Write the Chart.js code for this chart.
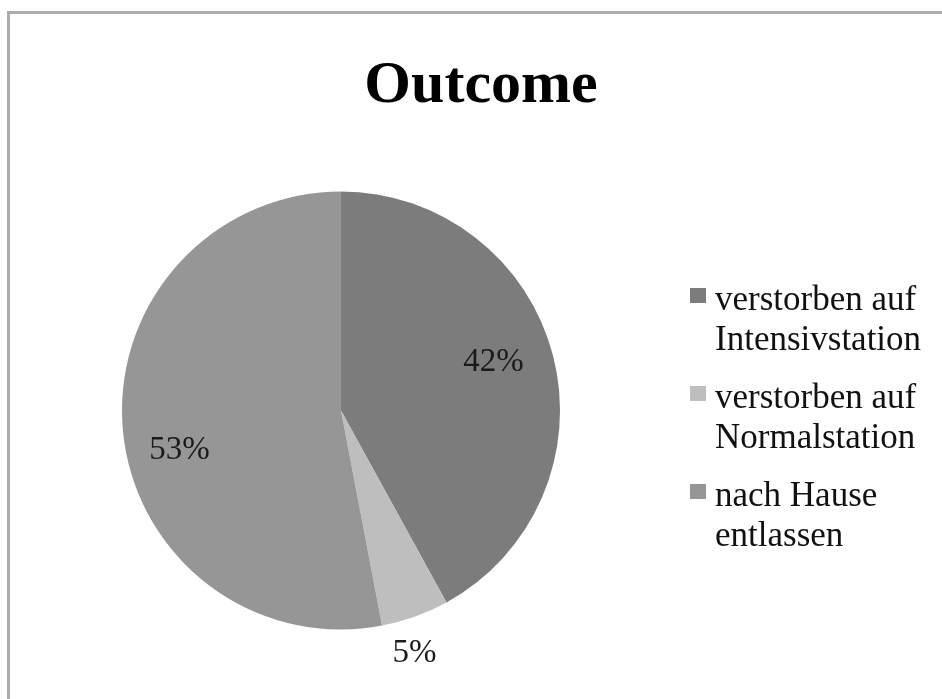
<!DOCTYPE html>
<html>
<head>
<meta charset="utf-8">
<script src="https://cdn.jsdelivr.net/npm/chart.js@4/dist/chart.umd.min.js"></script>
<style>
  html, body { margin: 0; padding: 0; background: #ffffff; }
  #wrap { position: relative; width: 942px; height: 699px; }
</style>
</head>
<body>
<div id="wrap"><canvas id="chart"></canvas></div>
<script>
// Outcome categories (multi-line legend text) and their shares in percent
const categories = [
  ['verstorben auf', 'Intensivstation'],
  ['verstorben auf', 'Normalstation'],
  ['nach Hause', 'entlassen']
];
const shares = [42, 5, 53];
const chartTitle = 'Outcome';

const sliceColors = ['#7c7c7c', '#bebebe', '#969696'];
const serif = '"Liberation Serif", "Times New Roman", serif';

// Grey frame along the top and left edge of the chart box
const framePlugin = {
  id: 'frame',
  beforeDraw(chart) {
    const ctx = chart.ctx;
    ctx.save();
    ctx.fillStyle = '#ffffff';
    ctx.fillRect(0, 0, chart.width, chart.height);
    ctx.strokeStyle = '#acacac';
    ctx.lineWidth = 3;
    ctx.beginPath();
    ctx.moveTo(8.5, chart.height + 5);
    ctx.lineTo(8.5, 12.5);
    ctx.lineTo(chart.width + 5, 12.5);
    ctx.stroke();
    ctx.restore();
  }
};

// Title centred over the chart
const titlePlugin = {
  id: 'bigTitle',
  afterDraw(chart) {
    const ctx = chart.ctx;
    ctx.save();
    ctx.font = 'bold 60px ' + serif;
    ctx.fillStyle = '#000000';
    ctx.textAlign = 'center';
    ctx.textBaseline = 'alphabetic';
    ctx.fillText(chartTitle, 481, 102);
    ctx.restore();
  }
};

// Percentage labels placed from each arc's geometry
const percentPlugin = {
  id: 'percentLabels',
  afterDatasetsDraw(chart, args, opts) {
    const ctx = chart.ctx;
    const meta = chart.getDatasetMeta(0);
    const data = chart.data.datasets[0].data;
    const total = data.reduce((a, b) => a + b, 0);
    ctx.save();
    ctx.font = '33px ' + serif;
    ctx.fillStyle = '#1a1a1a';
    ctx.textAlign = 'center';
    ctx.textBaseline = 'middle';
    meta.data.forEach((arc, i) => {
      const p = opts.placement[i];
      const mid = (arc.startAngle + arc.endAngle) / 2 + p.shift * Math.PI / 180;
      const dist = arc.outerRadius * p.frac;
      const x = arc.x + Math.cos(mid) * dist;
      const y = arc.y + Math.sin(mid) * dist;
      ctx.fillText(Math.round(data[i] / total * 100) + '%', x, y);
    });
    ctx.restore();
  }
};

// Legend on the right with square swatches and wrapped labels
const sideLegendPlugin = {
  id: 'sideLegend',
  afterDraw(chart, args, opts) {
    const ctx = chart.ctx;
    const colors = chart.data.datasets[0].backgroundColor;
    ctx.save();
    ctx.font = '35px ' + serif;
    ctx.textAlign = 'left';
    ctx.textBaseline = 'alphabetic';
    let base = opts.top;
    chart.data.labels.forEach((lines, i) => {
      ctx.fillStyle = colors[i];
      ctx.fillRect(opts.left, base - 22, 16, 15);
      ctx.fillStyle = '#111111';
      lines.forEach((line, j) => {
        ctx.fillText(line, opts.left + 25, base + j * opts.lineHeight);
      });
      base += opts.itemGap;
    });
    ctx.restore();
  }
};

new Chart(document.getElementById('chart'), {
  type: 'pie',
  data: {
    labels: categories,
    datasets: [{
      data: shares,
      backgroundColor: sliceColors,
      borderWidth: 0
    }]
  },
  options: {
    responsive: true,
    maintainAspectRatio: false,
    devicePixelRatio: 1,
    animation: false,
    layout: {
      padding: { left: 122, right: 382, top: 191, bottom: 69 }
    },
    plugins: {
      legend: { display: false },
      title: { display: false },
      tooltip: { enabled: false },
      percentLabels: {
        placement: [
          { frac: 0.73, shift: -3 },
          { frac: 1.16, shift: 3 },
          { frac: 0.76, shift: -8.6 }
        ]
      },
      sideLegend: { left: 690, top: 310, lineHeight: 40, itemGap: 98 }
    }
  },
  plugins: [framePlugin, titlePlugin, percentPlugin, sideLegendPlugin]
});
</script>
</body>
</html>
